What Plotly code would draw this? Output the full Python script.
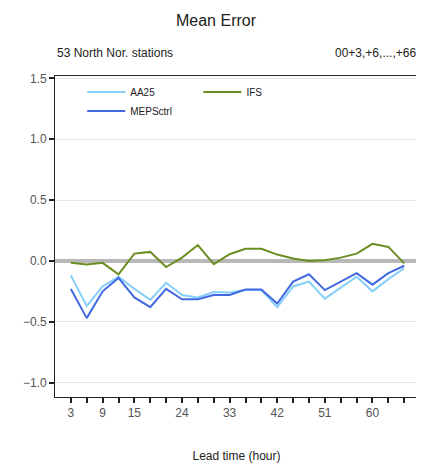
import plotly.graph_objects as go

lead_time = [3, 6, 9, 12, 15, 18, 21, 24, 27, 30, 33, 36, 39, 42, 45, 48, 51, 54, 57, 60, 63, 66]
aa25 = [-0.12, -0.37, -0.21, -0.13, -0.23, -0.32, -0.18, -0.28, -0.30, -0.255, -0.26,
        -0.24, -0.24, -0.38, -0.21, -0.17, -0.31, -0.22, -0.13, -0.25, -0.15, -0.06]
meps = [-0.23, -0.47, -0.25, -0.14, -0.30, -0.38, -0.23, -0.315, -0.315, -0.28, -0.28,
        -0.235, -0.235, -0.35, -0.17, -0.11, -0.24, -0.17, -0.10, -0.195, -0.10, -0.04]
ifs = [-0.016, -0.03, -0.016, -0.11, 0.06, 0.074, -0.05, 0.027, 0.13, -0.027, 0.055,
       0.10, 0.10, 0.052, 0.02, 0.0, 0.005, 0.027, 0.06, 0.14, 0.115, -0.02]
labelled_ticks = [3, 9, 15, 24, 33, 42, 51, 60]
tick_text = [str(v) if v in labelled_ticks else "" for v in lead_time]

FONT = "Liberation Sans, Arial, sans-serif"
W, H = 416, 458  # page body adds an 8px offset

fig = go.Figure()
fig.add_trace(go.Scatter(x=lead_time, y=aa25, mode="lines", name="AA25",
                         line=dict(color="#87CEFA", width=2), legend="legend"))
fig.add_trace(go.Scatter(x=lead_time, y=meps, mode="lines", name="MEPSctrl",
                         line=dict(color="#4169E1", width=2), legend="legend"))
fig.add_trace(go.Scatter(x=lead_time, y=ifs, mode="lines", name="IFS",
                         line=dict(color="#6B8E23", width=2), legend="legend2"))

fig.update_layout(
    width=W, height=H,
    margin=dict(l=47, r=6, t=68, b=69),
    plot_bgcolor="white", paper_bgcolor="white",
    font=dict(family=FONT, size=12, color="#222222"),
    title=dict(text="Mean Error", x=0.5, xanchor="center", y=1 - 12 / H, yanchor="middle",
               font=dict(size=16, color="#222222")),
    showlegend=True,
    legend=dict(x=0.075, y=0.995, xanchor="left", yanchor="top", bgcolor="rgba(0,0,0,0)",
                font=dict(size=10), tracegroupgap=0, itemwidth=38),
    legend2=dict(x=0.395, y=0.995, xanchor="left", yanchor="top", bgcolor="rgba(0,0,0,0)",
                 font=dict(size=10), itemwidth=38),
    xaxis=dict(range=[0, 68.6], tickmode="array", tickvals=lead_time, ticktext=tick_text,
               ticks="outside", ticklen=5, tickwidth=2, tickcolor="#222222",
               showgrid=False, zeroline=False, showline=True, linecolor="#222222",
               linewidth=1, mirror=True, tickfont=dict(size=12, color="#555555"),
               title=dict(text="Lead time (hour)", standoff=32, font=dict(size=12))),
    yaxis=dict(range=[-1.118, 1.519], tickmode="array",
               tickvals=[-1.0, -0.5, 0.0, 0.5, 1.0, 1.5],
               ticktext=["\u22121.0", "\u22120.5", "0.0", "0.5", "1.0", "1.5"],
               ticks="outside", ticklen=5, tickwidth=2, tickcolor="#222222",
               showgrid=True, gridcolor="#e8e8e8", gridwidth=1,
               zeroline=True, zerolinecolor="#b8b8b8", zerolinewidth=4,
               showline=True, linecolor="#222222", linewidth=1, mirror=True,
               tickfont=dict(size=12, color="#555555")),
    annotations=[
        dict(text="53 North Nor. stations", xref="paper", yref="paper", x=0, y=1,
             xanchor="left", yanchor="bottom", yshift=14, showarrow=False,
             font=dict(size=12, color="#222222")),
        dict(text="00+3,+6,...,+66", xref="paper", yref="paper", x=1, y=1,
             xanchor="right", yanchor="bottom", yshift=14, showarrow=False,
             font=dict(size=12, color="#222222")),
    ],
)

fig.write_html("out.html")
